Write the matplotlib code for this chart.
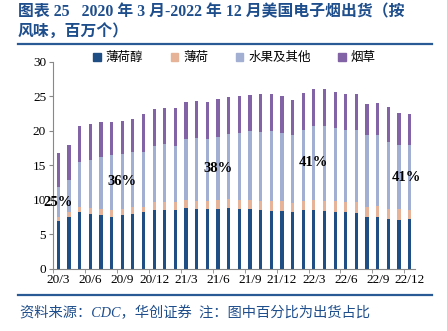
import numpy as np
import matplotlib
matplotlib.use("Agg")
import matplotlib.pyplot as plt
from matplotlib.lines import Line2D
from matplotlib.patches import Patch

# monthly shipments 2020/3 - 2022/12, millions of units
menthol = [6.94, 7.43, 8.25, 7.96, 7.76, 7.52, 7.76, 7.90, 8.15, 8.54, 8.54, 8.49,
           8.73, 8.63, 8.63, 8.68, 8.80, 8.68, 8.59, 8.54, 8.39, 8.39, 8.20, 8.49,
           8.50, 8.35, 8.25, 8.20, 8.10, 7.47, 7.47, 7.23, 7.08, 7.13]
mint = [0.46, 0.72, 0.72, 0.77, 0.87, 0.92, 0.87, 0.95, 0.82, 1.11, 1.11, 1.11,
        1.21, 1.21, 1.21, 1.26, 1.24, 1.26, 1.35, 1.30, 1.36, 1.36, 1.35, 1.35,
        1.44, 1.45, 1.55, 1.50, 1.55, 1.50, 1.60, 1.40, 1.51, 1.41]
fruit = [4.40, 4.70, 6.53, 7.07, 7.57, 7.96, 7.97, 8.00, 7.88, 8.15, 8.35, 8.20,
         8.86, 9.16, 8.96, 9.16, 9.46, 9.76, 10.02, 10.02, 10.21, 9.95, 9.75, 10.31,
         10.76, 10.90, 10.55, 10.40, 10.45, 10.33, 10.33, 9.77, 9.31, 9.36]
tobacco = [4.95, 5.00, 5.10, 5.20, 5.00, 4.80, 4.80, 4.85, 5.55, 5.35, 5.30, 5.45,
           5.40, 5.30, 5.40, 5.50, 5.35, 5.30, 5.24, 5.44, 5.34, 5.30, 5.10, 5.35,
           5.35, 5.30, 5.25, 5.20, 5.20, 4.60, 4.60, 5.00, 4.60, 4.50]

series_names = ["薄荷醇", "薄荷", "水果及其他", "烟草"]
tick_labels = ["20/3", "20/6", "20/9", "20/12", "21/3", "21/6",
               "21/9", "21/12", "22/3", "22/6", "22/9", "22/12"]

# share labels: bar index, text
pct_idx = [0, 6, 15, 24, 32]
pct_text = ["25%", "36%", "38%", "41%", "41%"]

colors = ["#1f4e85", "#e6b398", "#a3aed3", "#8263a6"]
blue_txt = "#1f4e8c"
serif_cjk = ["Liberation Serif", "Noto Sans CJK SC"]

fig = plt.figure(figsize=(4.47, 3.31), dpi=100)
ax = fig.add_axes([0.1186, 0.1888, 0.8098, 0.6248])

x = np.arange(len(menthol))
w = 0.3
bottom = np.zeros(len(x))
for vals, c in zip([menthol, mint, fruit, tobacco], colors):
    ax.bar(x, vals, w, bottom=bottom, color=c, linewidth=0)
    bottom = bottom + np.array(vals)

base = np.array(menthol) + np.array(mint)
for i, t in zip(pct_idx, pct_text):
    xo = 5 if i == 32 else 0
    ax.annotate(t, (i, base[i] + fruit[i] / 2), xytext=(xo, 0), textcoords="offset points",
                ha="center", va="center", fontsize=10.5, fontweight="bold",
                family="Liberation Serif")

ax.set_xlim(-0.5, len(x) - 0.5)
ax.set_ylim(0, 30)
ax.set_yticks(range(0, 31, 5))
ax.set_xticks(np.arange(0, len(x), 3))
ax.set_xticklabels(tick_labels)
ax.set_xticks(np.arange(-0.5, len(x), 3), minor=True)
ax.tick_params(axis="x", which="major", length=0, pad=4)
ax.tick_params(axis="x", which="minor", length=3, color="#888888", direction="out")
ax.tick_params(axis="y", length=3, color="#888888", direction="out", pad=2)
for lab in ax.get_xticklabels() + ax.get_yticklabels():
    lab.set_family("Liberation Serif")
    lab.set_fontsize(9.5)
for s in ["top", "right"]:
    ax.spines[s].set_visible(False)
for s in ["left", "bottom"]:
    ax.spines[s].set_color("#888888")
    ax.spines[s].set_linewidth(0.8)

handles = [Patch(color=c) for c in colors]
fig.legend(handles, series_names, loc="center", bbox_to_anchor=(0.525, 0.826), ncol=4,
           frameon=False, handlelength=0.6, handleheight=0.6, handletextpad=0.4,
           columnspacing=2.2, prop={"family": "Noto Sans CJK SC", "size": 9})

fig.text(0.04, 0.962, "图表 25   2020 年 3 月-2022 年 12 月美国电子烟出货（按",
         fontsize=11.4, fontweight="bold", color=blue_txt, family=serif_cjk, va="center")
fig.text(0.04, 0.900, "风味，百万个）",
         fontsize=11.4, fontweight="bold", color=blue_txt, family=serif_cjk, va="center")
fig.add_artist(Line2D([0.04, 0.967], [0.867, 0.867], color="#2a5a95", lw=1.6))
fig.add_artist(Line2D([0.04, 0.967], [0.109, 0.109], color="#2a5a95", lw=1.6))
fig.text(0.045, 0.055, "资料来源：CDC，华创证券  注：图中百分比为出货占比",
         fontsize=10.3, style="italic", color=blue_txt, family=serif_cjk, va="center")

fig.savefig("out.png", dpi=100)
